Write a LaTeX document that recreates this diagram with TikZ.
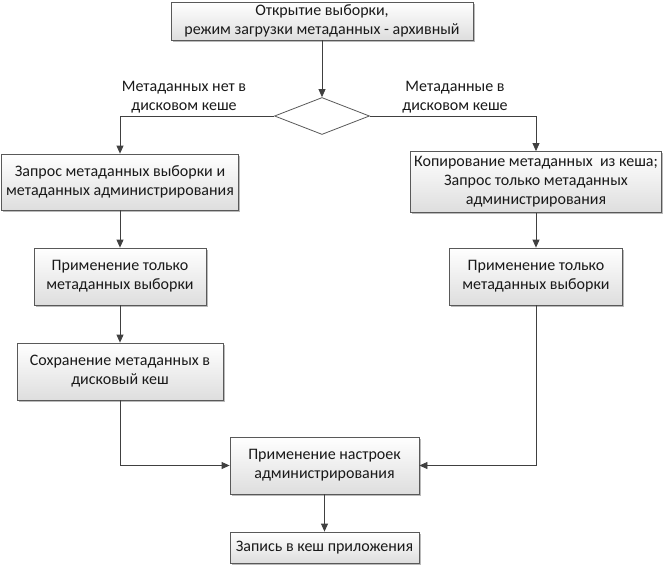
\documentclass[tikz,border=0pt]{standalone}
\usepackage{fontspec}
\setmainfont{Carlito}
\usetikzlibrary{shapes.geometric,arrows.meta,shadows}
\begin{document}
\begin{tikzpicture}[x=1pt,y=-1pt,
  box/.style={draw=black!65,line width=0.8pt,top color=white,bottom color=black!13,
    drop shadow={shadow xshift=1.8pt,shadow yshift=-1.8pt,fill=black!45,opacity=0.6},
    align=center,inner sep=0pt,font=\fontsize{16}{19}\selectfont,text=black!90},
  lbl/.style={align=center,inner sep=0pt,font=\fontsize{16}{19}\selectfont,text=black!90},
  arr/.style={draw=black!75,line width=0.8pt,-{Triangle[length=8pt,width=7pt]}},
  ln/.style={draw=black!75,line width=0.8pt}]
\useasboundingbox (0,0) rectangle (665,565);
\node[box,minimum width=302pt,minimum height=38pt] (top) at (322,21) {Открытие выборки,\\режим загрузки метаданных - архивный};
\node[diamond,draw=black!65,line width=0.8pt,fill=white,inner sep=0pt,minimum width=95pt,minimum height=37pt] (d) at (322,116) {};
\node[box,minimum width=237pt,minimum height=56pt] (l1) at (120,182) {Запрос метаданных выборки и\\метаданных администрирования};
\node[box,minimum width=172pt,minimum height=57pt] (l2) at (120,276.5) {Применение только\\метаданных выборки};
\node[box,minimum width=206pt,minimum height=57pt] (l3) at (120,371.5) {Сохранение метаданных в\\дисковый кеш};
\node[box,minimum width=251pt,minimum height=61pt] (r1) at (536,182) {Копирование метаданных\ \ из кеша;\\Запрос только метаданных\\администрирования};
\node[box,minimum width=173pt,minimum height=57pt] (r2) at (536,276.5) {Применение только\\метаданных выборки};
\node[box,minimum width=189pt,minimum height=57pt] (adm) at (324.5,465.5) {Применение настроек\\администрирования};
\node[box,minimum width=189pt,minimum height=31pt] (fin) at (324.5,547.5) {Запись в кеш приложения};
\node[lbl] (lno) at (184,97) {Метаданных нет в\\дисковом кеше};
\node[lbl] (lyes) at (455,97) {Метаданные в\\дисковом кеше};
\draw[arr] (top) -- (d.north);
\draw[arr] (d.west) -| (l1.north);
\draw[arr] (d.east) -| (r1.north);
\draw[arr] (l1) -- (l2);
\draw[arr] (l2) -- (l3);
\draw[arr] (r1) -- (r2);
\draw[arr] (l3.south) |- (adm.west);
\draw[arr] (r2.south) |- (adm.east);
\draw[arr] (adm) -- (fin);
\end{tikzpicture}
\end{document}
